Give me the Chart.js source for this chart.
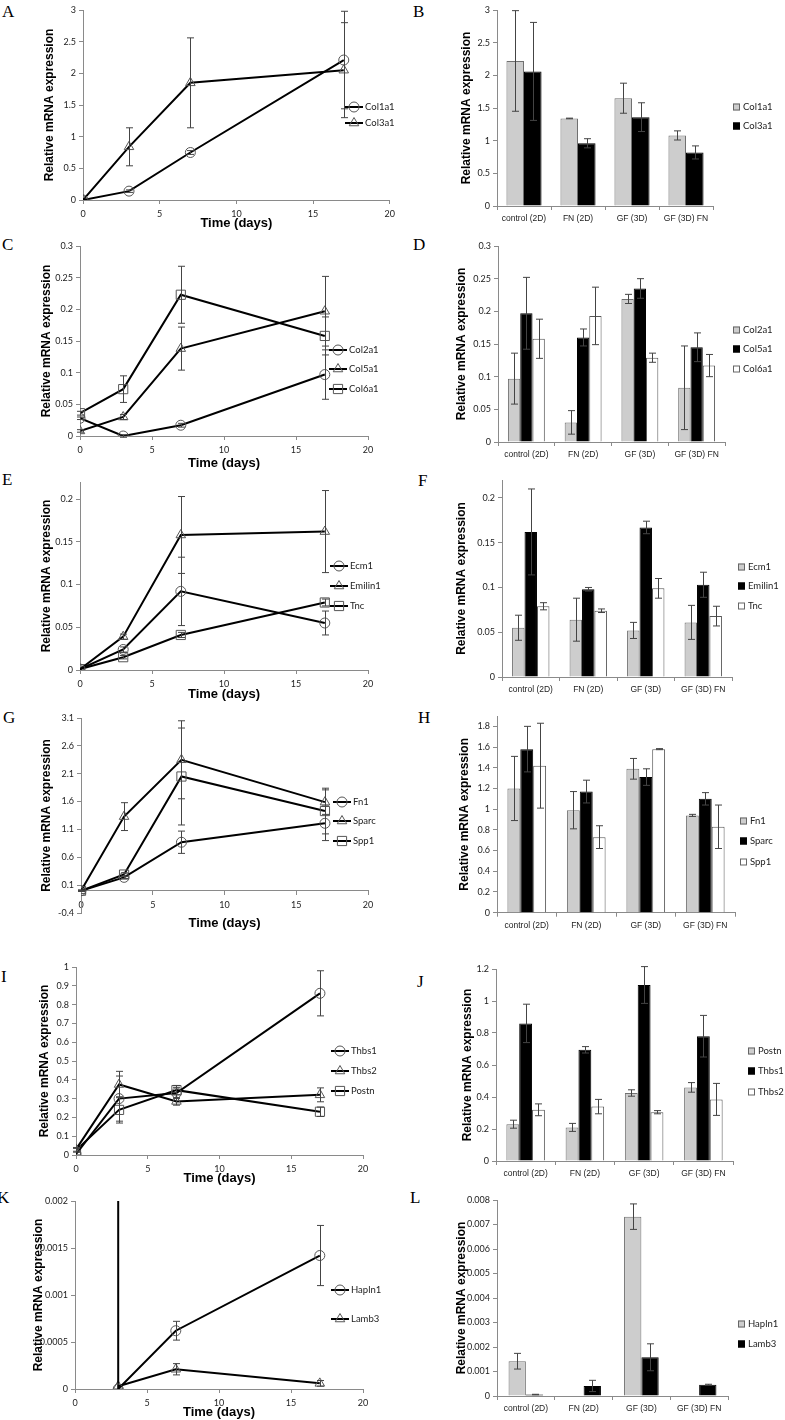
<!DOCTYPE html>
<html>
<head>
<meta charset="utf-8">
<script src="https://cdn.jsdelivr.net/npm/chart.js@4"></script>
<style>
body { margin: 0; background: #fff; width: 785px; height: 1420px; position: relative; overflow: hidden; }
canvas { position: absolute; }
.tag { position: absolute; font-family: "Liberation Serif", serif; font-size: 17px; line-height: 17px; color: #000; }
</style>
</head>
<body>
<div class="tag" style="left:2px;top:3px">A</div>
<div class="tag" style="left:413px;top:3px">B</div>
<div class="tag" style="left:2px;top:236px">C</div>
<div class="tag" style="left:413px;top:236px">D</div>
<div class="tag" style="left:2px;top:471px">E</div>
<div class="tag" style="left:418px;top:472px">F</div>
<div class="tag" style="left:3px;top:709px">G</div>
<div class="tag" style="left:418px;top:709px">H</div>
<div class="tag" style="left:1px;top:968px">I</div>
<div class="tag" style="left:417px;top:973px">J</div>
<div class="tag" style="left:-3px;top:1189px">K</div>
<div class="tag" style="left:410px;top:1189px">L</div>

<canvas id="cA" width="400" height="245" style="left:0;top:0"></canvas>
<canvas id="cB" width="385" height="245" style="left:400px;top:0"></canvas>
<canvas id="cC" width="400" height="245" style="left:0;top:230px"></canvas>
<canvas id="cD" width="385" height="245" style="left:400px;top:230px"></canvas>
<canvas id="cE" width="400" height="245" style="left:0;top:460px"></canvas>
<canvas id="cF" width="385" height="245" style="left:400px;top:460px"></canvas>
<canvas id="cG" width="400" height="245" style="left:0;top:690px"></canvas>
<canvas id="cH" width="385" height="245" style="left:400px;top:690px"></canvas>
<canvas id="cI" width="400" height="265" style="left:0;top:920px"></canvas>
<canvas id="cJ" width="385" height="265" style="left:400px;top:920px"></canvas>
<canvas id="cK" width="400" height="250" style="left:0;top:1170px"></canvas>
<canvas id="cL" width="385" height="250" style="left:400px;top:1170px"></canvas>

<script>
// shared categories / ticks
const days = [0, 3, 7, 17];
const dayTicks = [0, 5, 10, 15, 20];
const groups = ["control (2D)", "FN (2D)", "GF (3D)", "GF (3D) FN"];

// A - Col1a1 / Col3a1 over time
const ticksA = [0, 0.5, 1, 1.5, 2, 2.5, 3];
const col1a1Time = [0, 0.14, 0.75, 2.21];
const col1a1TimeErr = [0, 0.02, 0.03, 0.77];
const col3a1Time = [0, 0.84, 1.85, 2.05];
const col3a1TimeErr = [0, 0.3, 0.71, 0.75];

// B
const ticksB = [0, 0.5, 1, 1.5, 2, 2.5, 3];
const col1a1Cond = [2.22, 1.34, 1.65, 1.08];
const col1a1CondErr = [0.77, 0.005, 0.23, 0.07];
const col3a1Cond = [2.06, 0.96, 1.36, 0.82];
const col3a1CondErr = [0.75, 0.07, 0.22, 0.1];

// C
const ticksC = [0, 0.05, 0.1, 0.15, 0.2, 0.25, 0.3];
const col2a1Time = [0.028, 0, 0.017, 0.097];
const col2a1TimeErr = [0.002, 0.002, 0.003, 0.039];
const col5a1Time = [0.008, 0.03, 0.138, 0.197];
const col5a1TimeErr = [0.002, 0.004, 0.034, 0.055];
const col6a1Time = [0.036, 0.074, 0.223, 0.158];
const col6a1TimeErr = [0.003, 0.021, 0.045, 0.03];

// D
const ticksD = [0, 0.05, 0.1, 0.15, 0.2, 0.25, 0.3];
const col2a1Cond = [0.097, 0.030, 0.219, 0.083];
const col2a1CondErr = [0.039, 0.018, 0.007, 0.064];
const col5a1Cond = [0.197, 0.160, 0.235, 0.145];
const col5a1CondErr = [0.055, 0.013, 0.015, 0.022];
const col6a1Cond = [0.158, 0.193, 0.129, 0.117];
const col6a1CondErr = [0.03, 0.044, 0.007, 0.017];

// E
const ticksE = [0, 0.05, 0.1, 0.15, 0.2];
const ecm1Time = [0.001, 0.024, 0.092, 0.055];
const ecm1TimeErr = [0, 0.003, 0.04, 0.014];
const emilin1Time = [0.001, 0.039, 0.158, 0.162];
const emilin1TimeErr = [0, 0.003, 0.045, 0.048];
const tncTime = [0.001, 0.015, 0.041, 0.079];
const tncTimeErr = [0, 0.002, 0.003, 0.004];

// F
const ticksF = [0, 0.05, 0.1, 0.15, 0.2];
const ecm1Cond = [0.055, 0.064, 0.052, 0.061];
const ecm1CondErr = [0.014, 0.024, 0.009, 0.019];
const emilin1Cond = [0.162, 0.098, 0.167, 0.103];
const emilin1CondErr = [0.048, 0.002, 0.007, 0.014];
const tncCond = [0.079, 0.074, 0.099, 0.068];
const tncCondErr = [0.004, 0.002, 0.011, 0.011];

// G
const ticksG = [-0.4, 0.1, 0.6, 1.1, 1.6, 2.1, 2.6, 3.1];
const fn1Time = [0, 0.24, 0.87, 1.21];
const fn1TimeErr = [0.01, 0.02, 0.2, 0.31];
const sparcTime = [0, 1.33, 2.35, 1.59];
const sparcTimeErr = [0.01, 0.25, 0.7, 0.22];
const spp1Time = [0, 0.29, 2.05, 1.43];
const spp1TimeErr = [0.01, 0.03, 0.87, 0.41];

// H
const ticksH = [0, 0.2, 0.4, 0.6, 0.8, 1, 1.2, 1.4, 1.6, 1.8];
const fn1Cond = [1.20, 0.99, 1.39, 0.94];
const fn1CondErr = [0.31, 0.18, 0.1, 0.01];
const sparcCond = [1.58, 1.17, 1.31, 1.10];
const sparcCondErr = [0.22, 0.11, 0.08, 0.06];
const spp1Cond = [1.42, 0.73, 1.58, 0.83];
const spp1CondErr = [0.41, 0.11, 0.005, 0.21];

// I
const ticksI = [0, 0.1, 0.2, 0.3, 0.4, 0.5, 0.6, 0.7, 0.8, 0.9, 1];
const thbs1Time = [0.005, 0.30, 0.33, 0.86];
const thbs1TimeErr = [0, 0.12, 0.03, 0.12];
const thbs2Time = [0.03, 0.375, 0.285, 0.32];
const thbs2TimeErr = [0.01, 0.07, 0.02, 0.037];
const postnTime = [0.025, 0.24, 0.345, 0.23];
const postnTimeErr = [0.01, 0.07, 0.025, 0.025];

// J
const ticksJ = [0, 0.2, 0.4, 0.6, 0.8, 1, 1.2];
const postnCond = [0.23, 0.21, 0.425, 0.46];
const postnCondErr = [0.025, 0.025, 0.02, 0.03];
const thbs1Cond = [0.86, 0.695, 1.10, 0.78];
const thbs1CondErr = [0.12, 0.02, 0.115, 0.13];
const thbs2Cond = [0.32, 0.34, 0.305, 0.385];
const thbs2CondErr = [0.037, 0.045, 0.01, 0.1];

// K
const ticksK = [0, 0.0005, 0.001, 0.0015, 0.002];
const hapln1Days = [3, 3, 7, 17];
const hapln1Time = [0.004, 0, 0.00062, 0.00142];
const hapln1TimeErr = [0, 0, 0.0001, 0.00032];
const lamb3Days = [3, 7, 17];
const lamb3Time = [0.00003, 0.00021, 0.00006];
const lamb3TimeErr = [0, 0.00006, 0.00003];

// L
const ticksL = [0, 0.001, 0.002, 0.003, 0.004, 0.005, 0.006, 0.007, 0.008];
const hapln1Cond = [0.00142, 0, 0.00732, 0];
const hapln1CondErr = [0.00032, 0, 0.00052, 0];
const lamb3Cond = [0.00006, 0.00041, 0.00158, 0.00046];
const lamb3CondErr = [0.00001, 0.00023, 0.00055, 0.00002];

// the figure is squeezed sideways, so use a narrow face when one is installed
function hasFont(name) {
  const c = document.createElement("canvas").getContext("2d");
  const s = "0.25 control (2D) Col1a1";
  c.font = "20px monospace";
  const a = c.measureText(s).width;
  c.font = "20px '" + name + "', monospace";
  return c.measureText(s).width !== a;
}
const narrow = hasFont("Liberation Sans Narrow");
const smallFamily = narrow ? "Liberation Sans Narrow" : "Lato";
const tickFont = { family: smallFamily, size: narrow ? 11 : 9 };
const catFont = { family: narrow ? "Liberation Sans Narrow" : "Liberation Sans", size: narrow ? 10.5 : 8.5 };
const legendFont = (narrow ? 11 : 9.5) + "px '" + smallFamily + "'";

const axisGrey = "#8a8a8a";
const textCol = "#222";
const yTitle = "Relative mRNA expression";

function drawMarker(ctx, style, x, y, r) {
  ctx.save();
  ctx.strokeStyle = "#555";
  ctx.lineWidth = 1;
  ctx.beginPath();
  if (style === "triangle") {
    let a = 0;
    ctx.moveTo(x + Math.sin(a) * r, y - Math.cos(a) * r);
    a += 2 * Math.PI / 3;
    ctx.lineTo(x + Math.sin(a) * r, y - Math.cos(a) * r);
    a += 2 * Math.PI / 3;
    ctx.lineTo(x + Math.sin(a) * r, y - Math.cos(a) * r);
    ctx.closePath();
  } else if (style === "rect") {
    const s = r * Math.SQRT1_2;
    ctx.rect(x - s, y - s, 2 * s, 2 * s);
  } else {
    ctx.arc(x, y, r, 0, 2 * Math.PI);
  }
  ctx.stroke();
  ctx.restore();
}

const errorBars = {
  id: "errorBars",
  afterDatasetsDraw(chart) {
    const ctx = chart.ctx, ys = chart.scales.y;
    ctx.save();
    ctx.strokeStyle = "#444";
    ctx.lineWidth = 1;
    chart.data.datasets.forEach((ds, i) => {
      if (!ds.err) return;
      chart.getDatasetMeta(i).data.forEach((el, j) => {
        const e = ds.err[j];
        if (!e) return;
        const raw = ds.data[j];
        const v = typeof raw === "object" ? raw.y : raw;
        const x = Math.round(el.x) + 0.5;
        const y1 = ys.getPixelForValue(v + e), y2 = ys.getPixelForValue(v - e);
        ctx.beginPath();
        ctx.moveTo(x, y1); ctx.lineTo(x, y2);
        ctx.moveTo(x - 3.5, y1); ctx.lineTo(x + 3.5, y1);
        ctx.moveTo(x - 3.5, y2); ctx.lineTo(x + 3.5, y2);
        ctx.stroke();
      });
    });
    ctx.restore();
  }
};

const sideLegend = {
  id: "sideLegend",
  afterDraw(chart, args, opts) {
    if (!opts || !opts.ys) return;
    const ctx = chart.ctx;
    ctx.save();
    ctx.font = legendFont;
    ctx.textBaseline = "middle";
    chart.data.datasets.forEach((ds, i) => {
      const y = opts.ys[i], x = opts.x;
      if (opts.kind === "line") {
        ctx.strokeStyle = "#000";
        ctx.lineWidth = 2;
        ctx.beginPath(); ctx.moveTo(x, y); ctx.lineTo(x + 18, y); ctx.stroke();
        drawMarker(ctx, ds.pointStyle, x + 9, y, ds.pointRadius);
        ctx.fillStyle = textCol;
        ctx.fillText(ds.label, x + 20, y);
      } else {
        ctx.fillStyle = ds.backgroundColor;
        ctx.fillRect(x, y - 3.5, 7, 7);
        ctx.strokeStyle = ds.borderColor === "#000" ? "#000" : "#666";
        ctx.lineWidth = 1;
        ctx.strokeRect(x + 0.5, y - 3, 6, 6);
        ctx.fillStyle = textCol;
        ctx.fillText(ds.label, x + 10, y);
      }
    });
    ctx.restore();
  }
};

Chart.register(errorBars, sideLegend);
Chart.defaults.animation = false;
Chart.defaults.plugins.legend.display = false;
Chart.defaults.plugins.tooltip.enabled = false;

function yAxis(g, ticks, min, max) {
  return {
    min: min, max: max,
    afterBuildTicks: s => { s.ticks = ticks.map(v => ({ value: v })); },
    afterFit: s => { s.width = g.L; },
    ticks: { font: tickFont, color: textCol, padding: 3, autoSkip: false, callback: v => String(v) },
    grid: { drawOnChartArea: false, tickLength: 4, color: axisGrey },
    border: { color: axisGrey },
    title: { display: true, text: yTitle, color: "#000",
      font: { family: "Liberation Sans", size: 12, weight: "bold", lineHeight: 1 },
      padding: { top: g.tx - 6, bottom: 0 } }
  };
}

function xTime(g) {
  const sc = {
    type: "linear", min: 0, max: 20,
    afterBuildTicks: s => { s.ticks = dayTicks.map(v => ({ value: v })); },
    afterFit: s => { s.height = g.xh; },
    ticks: { font: tickFont, color: textCol, padding: 5, maxRotation: 0, callback: v => String(v) },
    grid: { drawOnChartArea: false, tickLength: 4, color: axisGrey },
    border: { color: axisGrey },
    title: { display: true, text: "Time (days)", color: "#000",
      font: { family: "Liberation Sans", size: 13, weight: "bold", lineHeight: 1 }, padding: 0 }
  };
  if (g.atZero) sc.position = { y: 0 };
  return sc;
}

function xGroups(g) {
  return {
    type: "category",
    afterFit: s => { s.height = g.xh; },
    ticks: { font: catFont, color: textCol, padding: 4, maxRotation: 0, autoSkip: false },
    grid: { drawOnChartArea: false, tickLength: 4, color: axisGrey, offset: true },
    border: { color: axisGrey }
  };
}

function pads(g) {
  return { left: 0, top: g.T, right: g.w - g.R, bottom: g.atZero ? g.h - g.B : g.h - g.B - g.xh };
}

function lineDs(label, xs, ys, err, style, r) {
  return {
    label: label,
    data: xs.map((x, i) => ({ x: x, y: ys[i] })),
    err: err,
    pointStyle: style, pointRadius: r,
    borderColor: "#000", borderWidth: 2,
    pointBackgroundColor: "rgba(255,255,255,0)", pointBorderColor: "#555", pointBorderWidth: 1,
    tension: 0, fill: false
  };
}

const barLook = {
  grey: { backgroundColor: "#cdcdcd", borderColor: "#707070" },
  black: { backgroundColor: "#000", borderColor: "#000" },
  white: { backgroundColor: "#fff", borderColor: "#555" }
};

function barDs(label, vals, err, look, cp) {
  return Object.assign({ label: label, data: vals, err: err, borderWidth: 1,
    barPercentage: 1, categoryPercentage: cp || 0.65 }, barLook[look]);
}

function lineChart(id, g, datasets, ticks, min, max, legend) {
  return new Chart(id, {
    type: "line",
    data: { datasets: datasets },
    options: {
      responsive: false,
      devicePixelRatio: 1,
      layout: { padding: pads(g) },
      scales: { x: xTime(g), y: yAxis(g, ticks, min, max) },
      plugins: { sideLegend: Object.assign({ kind: "line" }, legend) }
    }
  });
}

function barChart(id, g, datasets, ticks, max, legend) {
  return new Chart(id, {
    type: "bar",
    data: { labels: groups, datasets: datasets },
    options: {
      responsive: false,
      devicePixelRatio: 1,
      layout: { padding: pads(g) },
      scales: { x: xGroups(g), y: yAxis(g, ticks, 0, max) },
      plugins: { sideLegend: Object.assign({ kind: "box" }, legend) }
    }
  });
}

// A
lineChart("cA", { w: 400, h: 245, L: 83, T: 10, R: 393, B: 200, xh: 29.5, tx: 50 }, [
  lineDs("Col1a1", days, col1a1Time, col1a1TimeErr, "circle", 5),
  lineDs("Col3a1", days, col3a1Time, col3a1TimeErr, "triangle", 5.5)
], ticksA, 0, 3, { x: 345, ys: [107, 123] });

// B
barChart("cB", { w: 385, h: 245, L: 97, T: 10, R: 313, B: 206, xh: 20, tx: 67 }, [
  barDs("Col1a1", col1a1Cond, col1a1CondErr, "grey"),
  barDs("Col3a1", col3a1Cond, col3a1CondErr, "black")
], ticksB, 3, { x: 333, ys: [107, 126] });

// C
lineChart("cC", { w: 400, h: 245, L: 80, T: 16, R: 368, B: 206, xh: 33.5, tx: 47 }, [
  lineDs("Col2a1", days, col2a1Time, col2a1TimeErr, "circle", 5),
  lineDs("Col5a1", days, col5a1Time, col5a1TimeErr, "triangle", 5.5),
  lineDs("Col6a1", days, col6a1Time, col6a1TimeErr, "rect", 6.5)
], ticksC, 0, 0.3, { x: 329, ys: [120, 139, 159] });

// D
barChart("cD", { w: 385, h: 245, L: 98, T: 16, R: 325, B: 212, xh: 20, tx: 62 }, [
  barDs("Col2a1", col2a1Cond, col2a1CondErr, "grey"),
  barDs("Col5a1", col5a1Cond, col5a1CondErr, "black"),
  barDs("Col6a1", col6a1Cond, col6a1CondErr, "white")
], ticksD, 0.3, { x: 333, ys: [100, 119, 139] });

// E
lineChart("cE", { w: 400, h: 245, L: 80, T: 22, R: 368, B: 210, xh: 30.5, tx: 47 }, [
  lineDs("Ecm1", days, ecm1Time, ecm1TimeErr, "circle", 5),
  lineDs("Emilin1", days, emilin1Time, emilin1TimeErr, "triangle", 5.5),
  lineDs("Tnc", days, tncTime, tncTimeErr, "rect", 6.5)
], ticksE, 0, 0.22, { x: 330, ys: [106, 126, 146] });

// F
barChart("cF", { w: 385, h: 245, L: 102, T: 20, R: 332, B: 217, xh: 20, tx: 62 }, [
  barDs("Ecm1", ecm1Cond, ecm1CondErr, "grey"),
  barDs("Emilin1", emilin1Cond, emilin1CondErr, "black"),
  barDs("Tnc", tncCond, tncCondErr, "white")
], ticksF, 0.22, { x: 338, ys: [107, 126, 146] });

// G
lineChart("cG", { w: 400, h: 245, L: 81, T: 28, R: 368, B: 223, xh: 38.8, tx: 47, atZero: true }, [
  lineDs("Fn1", days, fn1Time, fn1TimeErr, "circle", 5),
  lineDs("Sparc", days, sparcTime, sparcTimeErr, "triangle", 5.5),
  lineDs("Spp1", days, spp1Time, spp1TimeErr, "rect", 6.5)
], ticksG, -0.4, 3.1, { x: 333, ys: [112, 131, 151] });

// H
barChart("cH", { w: 385, h: 245, L: 97, T: 26, R: 335, B: 222.7, xh: 20, tx: 65 }, [
  barDs("Fn1", fn1Cond, fn1CondErr, "grey"),
  barDs("Sparc", sparcCond, sparcCondErr, "black"),
  barDs("Spp1", spp1Cond, spp1CondErr, "white")
], ticksH, 1.9, { x: 340, ys: [131, 151, 172] });

// I
lineChart("cI", { w: 400, h: 265, L: 76, T: 47, R: 363, B: 235, xh: 29.5, tx: 45 }, [
  lineDs("Thbs1", days, thbs1Time, thbs1TimeErr, "circle", 5),
  lineDs("Thbs2", days, thbs2Time, thbs2TimeErr, "triangle", 5.5),
  lineDs("Postn", days, postnTime, postnTimeErr, "rect", 6.5)
], ticksI, 0, 1, { x: 331, ys: [131, 151, 171] });

// J
barChart("cJ", { w: 385, h: 265, L: 96, T: 49, R: 333, B: 241, xh: 20, tx: 68 }, [
  barDs("Postn", postnCond, postnCondErr, "grey"),
  barDs("Thbs1", thbs1Cond, thbs1CondErr, "black"),
  barDs("Thbs2", thbs2Cond, thbs2CondErr, "white")
], ticksJ, 1.2, { x: 348, ys: [131, 151, 172] });

// K
lineChart("cK", { w: 400, h: 250, L: 75, T: 31, R: 363, B: 219, xh: 29.5, tx: 39 }, [
  lineDs("Hapln1", hapln1Days, hapln1Time, hapln1TimeErr, "circle", 5),
  lineDs("Lamb3", lamb3Days, lamb3Time, lamb3TimeErr, "triangle", 5.5)
], ticksK, 0, 0.002, { x: 331, ys: [120, 149] });

// L
barChart("cL", { w: 385, h: 250, L: 97, T: 30, R: 328, B: 226, xh: 20, tx: 62 }, [
  barDs("Hapln1", hapln1Cond, hapln1CondErr, "grey", 0.6),
  barDs("Lamb3", lamb3Cond, lamb3CondErr, "black", 0.6)
], ticksL, 0.008, { x: 338, ys: [154, 174] });
</script>
</body>
</html>
